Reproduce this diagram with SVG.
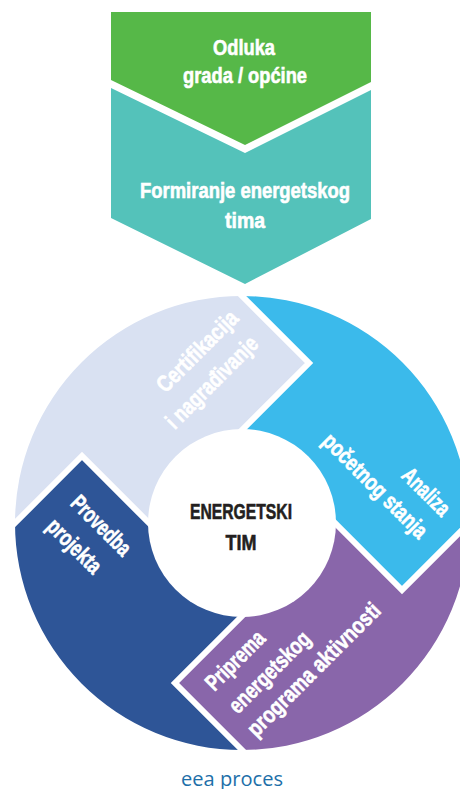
<svg xmlns="http://www.w3.org/2000/svg" width="460" height="789" viewBox="0 0 460 789">
<style>
.t{font-family:"Liberation Sans",Arial,sans-serif;font-weight:bold;fill:#fff;stroke:#fff;stroke-width:0.6;text-anchor:middle}
.s{font-size:22px}
.g{font-size:23px}
.c{font-family:"Liberation Sans",Arial,sans-serif;font-weight:bold;fill:#231f20;stroke:#231f20;stroke-width:0.6;text-anchor:middle;font-size:22.5px}
.sep{fill:none;stroke:#fff;stroke-width:6;stroke-linejoin:miter}
</style>
<defs>
<path id="seg" d="M0,-227 A227,227 0 0 1 227,0 L160,67 L80,-13 L-13,-80 L67,-160 Z"/>
<polyline id="bnd" class="sep" points="-6,-233 67,-160 -13,-80"/>
</defs>
<rect width="460" height="789" fill="#fff"/>
<g id="odluka">
<polygon points="111,12 371,12 371,82 245,145 111,80" fill="#56b848"/>
<text class="t s" x="244" y="55" textLength="62" lengthAdjust="spacingAndGlyphs">Odluka</text>
<text class="t s" x="245" y="83" textLength="124" lengthAdjust="spacingAndGlyphs">grada / općine</text>
</g>
<g id="formiranje">
<polygon points="111,88 245,153 371,90 371,219 245,284 111,218" fill="#54c2ba"/>
<text class="t s" x="245" y="198" textLength="210" lengthAdjust="spacingAndGlyphs">Formiranje energetskog</text>
<text class="t s" x="245" y="228" textLength="40" lengthAdjust="spacingAndGlyphs">tima</text>
</g>
<g id="analiza">
<use href="#seg" transform="translate(242,523)" fill="#3bbaeb"/>
</g>
<g id="priprema">
<use href="#seg" transform="translate(242,523) rotate(90)" fill="#8966aa"/>
</g>
<g id="provedba">
<use href="#seg" transform="translate(242,523) rotate(180)" fill="#2e5597"/>
</g>
<g id="certifikacija">
<use href="#seg" transform="translate(242,523) rotate(270)" fill="#d9e1f2"/>
</g>
<g id="separators">
<use href="#bnd" transform="translate(242,523)"/>
<use href="#bnd" transform="translate(242,523) rotate(90)"/>
<use href="#bnd" transform="translate(242,523) rotate(180)"/>
<use href="#bnd" transform="translate(242,523) rotate(270)"/>
</g>
<g id="labels">
<text class="t g" transform="translate(198.5,352.5) rotate(-45)" y="6" textLength="105" lengthAdjust="spacingAndGlyphs">Certifikacija</text>
<text class="t g" transform="translate(213,383.5) rotate(-45)" y="6" textLength="120" lengthAdjust="spacingAndGlyphs">i nagrađivanje</text>
<text class="t g" transform="translate(425,493) rotate(45)" y="6" textLength="58" lengthAdjust="spacingAndGlyphs">Analiza</text>
<text class="t g" transform="translate(374,487) rotate(45)" y="6" textLength="138" lengthAdjust="spacingAndGlyphs">početnog stanja</text>
<text class="t g" transform="translate(100,526.7) rotate(45)" y="6" textLength="75" lengthAdjust="spacingAndGlyphs">Provedba</text>
<text class="t g" transform="translate(73.3,547.3) rotate(45)" y="6" textLength="67" lengthAdjust="spacingAndGlyphs">projekta</text>
<text class="t g" transform="translate(236.3,661.7) rotate(-45)" y="6" textLength="74" lengthAdjust="spacingAndGlyphs">Priprema</text>
<text class="t g" transform="translate(270.7,673.3) rotate(-45)" y="6" textLength="105" lengthAdjust="spacingAndGlyphs">energetskog</text>
<text class="t g" transform="translate(315,670.7) rotate(-45)" y="6" textLength="178" lengthAdjust="spacingAndGlyphs">programa aktivnosti</text>
</g>
<g id="energetski-tim">
<circle cx="242" cy="523" r="94" fill="#fff"/>
<text class="c" x="241" y="519" textLength="102" lengthAdjust="spacingAndGlyphs">ENERGETSKI</text>
<text class="c" x="241" y="550" textLength="31" lengthAdjust="spacingAndGlyphs">TIM</text>
</g>
<text id="caption" x="232" y="786" font-family="'Open Sans',sans-serif" font-size="20" fill="#1d6fa9" text-anchor="middle" textLength="102" lengthAdjust="spacingAndGlyphs">eea proces</text>
</svg>
